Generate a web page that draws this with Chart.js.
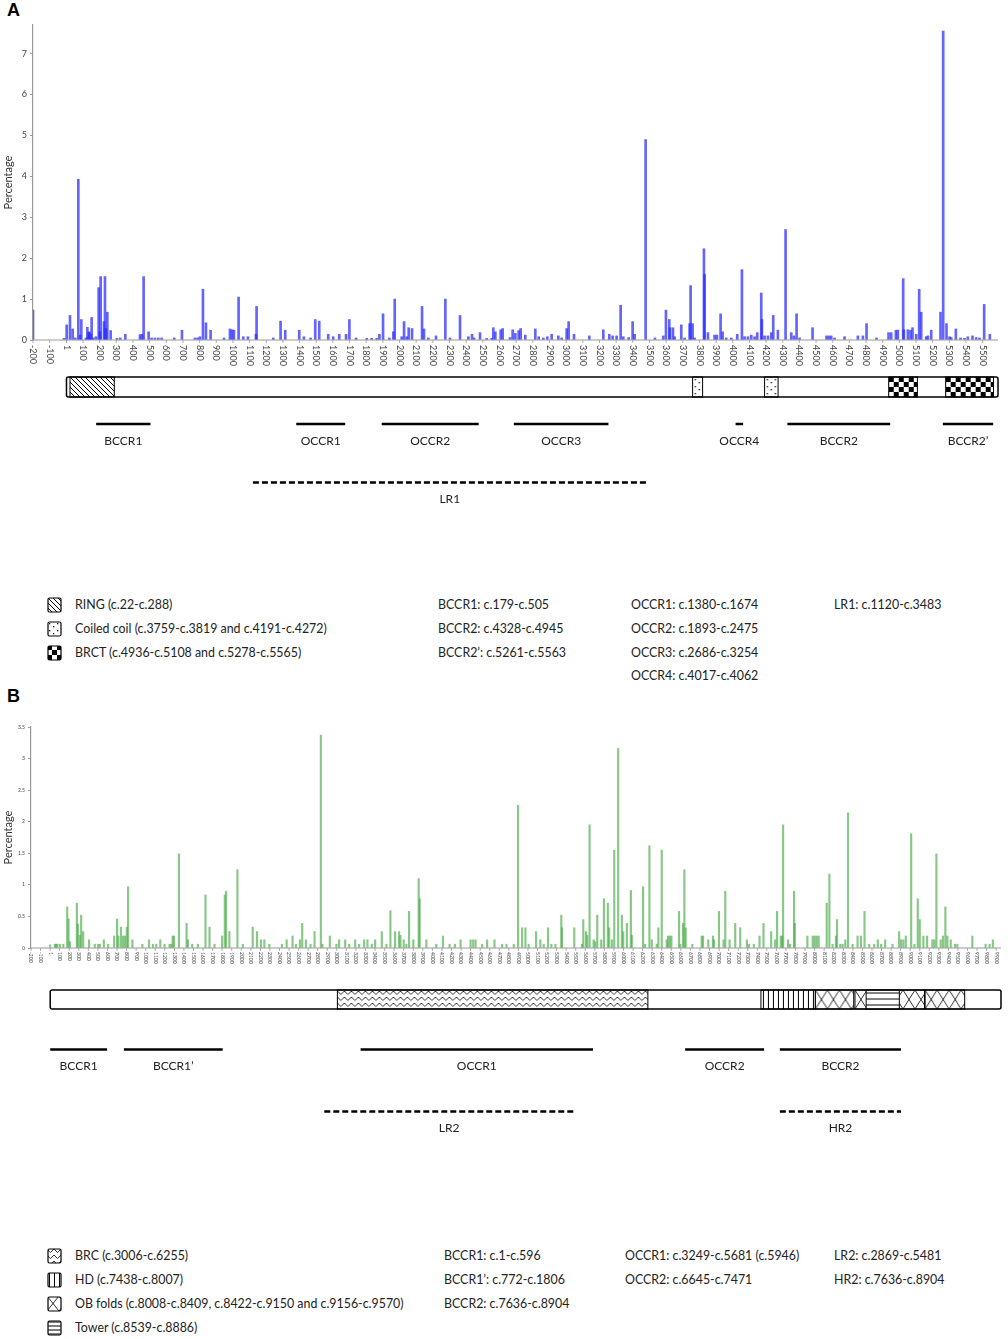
<!DOCTYPE html>
<html>
<head>
<meta charset="utf-8">
<script src="https://cdn.jsdelivr.net/npm/chart.js@4.4.1/dist/chart.umd.min.js"></script>
<style>
  body { margin: 0; background: #fff; }
  #page { position: relative; width: 1008px; height: 1339px; font-family: Lato, 'Open Sans', sans-serif; color: #222; }
  .panel { position: absolute; left: 7px; font: bold 18px 'Liberation Sans', Arial, sans-serif; color: #000; }
  canvas.chart { position: absolute; left: 0; }
  .lg { position: absolute; font-size: 12.4px; line-height: 16px; white-space: nowrap; }
  .sw { position: absolute; width: 15px; height: 16px; }
</style>
</head>
<body>
<div id="page">
  <div class="panel" style="top:0px">A</div>
  <canvas id="chartA" class="chart" width="1008" height="520" style="top:0px"></canvas>

  <canvas class="sw" data-pat="hatch" width="15" height="16" style="left:47px;top:597px"></canvas>
  <canvas class="sw" data-pat="dots" width="15" height="16" style="left:47px;top:621px"></canvas>
  <canvas class="sw" data-pat="check" width="15" height="16" style="left:47px;top:645px"></canvas>
  <div class="lg" style="left:75px;top:597px">RING (c.22-c.288)</div>
  <div class="lg" style="left:75px;top:621px">Coiled coil (c.3759-c.3819 and c.4191-c.4272)</div>
  <div class="lg" style="left:75px;top:645px">BRCT (c.4936-c.5108 and c.5278-c.5565)</div>
  <div class="lg" style="left:438px;top:597px">BCCR1: c.179-c.505</div>
  <div class="lg" style="left:438px;top:621px">BCCR2: c.4328-c.4945</div>
  <div class="lg" style="left:438px;top:645px">BCCR2’: c.5261-c.5563</div>
  <div class="lg" style="left:631px;top:597px">OCCR1: c.1380-c.1674</div>
  <div class="lg" style="left:631px;top:621px">OCCR2: c.1893-c.2475</div>
  <div class="lg" style="left:631px;top:645px">OCCR3: c.2686-c.3254</div>
  <div class="lg" style="left:631px;top:668px">OCCR4: c.4017-c.4062</div>
  <div class="lg" style="left:834px;top:597px">LR1: c.1120-c.3483</div>

  <div class="panel" style="top:686px">B</div>
  <canvas id="chartB" class="chart" width="1008" height="440" style="top:700px"></canvas>

  <canvas class="sw" data-pat="zigzag" width="15" height="16" style="left:47px;top:1248px"></canvas>
  <canvas class="sw" data-pat="vlines" width="15" height="16" style="left:47px;top:1272px"></canvas>
  <canvas class="sw" data-pat="cross" width="15" height="16" style="left:47px;top:1296px"></canvas>
  <canvas class="sw" data-pat="hlines" width="15" height="16" style="left:47px;top:1320px"></canvas>
  <div class="lg" style="left:75px;top:1248px">BRC (c.3006-c.6255)</div>
  <div class="lg" style="left:75px;top:1272px">HD (c.7438-c.8007)</div>
  <div class="lg" style="left:75px;top:1296px">OB folds (c.8008-c.8409, c.8422-c.9150 and c.9156-c.9570)</div>
  <div class="lg" style="left:75px;top:1320px">Tower (c.8539-c.8886)</div>
  <div class="lg" style="left:444px;top:1248px">BCCR1: c.1-c.596</div>
  <div class="lg" style="left:444px;top:1272px">BCCR1’: c.772-c.1806</div>
  <div class="lg" style="left:444px;top:1296px">BCCR2: c.7636-c.8904</div>
  <div class="lg" style="left:625px;top:1248px">OCCR1: c.3249-c.5681 (c.5946)</div>
  <div class="lg" style="left:625px;top:1272px">OCCR2: c.6645-c.7471</div>
  <div class="lg" style="left:834px;top:1248px">LR2: c.2869-c.5481</div>
  <div class="lg" style="left:834px;top:1272px">HR2: c.7636-c.8904</div>
</div>

<script>
// ---- Panel A (blue) : position (c.) and percentage ----
const posA = [-200, -14, 2, 22, 38, 54, 72, 82, 90, 118, 126, 134, 138, 146, 152, 162, 178, 194, 202, 206,
  226, 232, 238, 246, 266, 304, 324, 354, 442, 454, 464, 494, 512, 532, 552, 572, 648, 694, 772, 788,
  802, 820, 838, 866, 946, 982, 994, 1006, 1034, 1062, 1090, 1138, 1142, 1242, 1286, 1314, 1398, 1426, 1466, 1494,
  1518, 1572, 1602, 1638, 1679, 1699, 1739, 1803, 1833, 1863, 1879, 1901, 1939, 1963, 1971, 2013, 2027, 2043, 2055, 2075,
  2135, 2147, 2173, 2219, 2275, 2303, 2363, 2413, 2435, 2447, 2483, 2523, 2553, 2563, 2575, 2607, 2619, 2663, 2679, 2695,
  2715, 2727, 2755, 2815, 2835, 2863, 2887, 2913, 2953, 2973, 3003, 3015, 3047, 3139, 3223, 3259, 3279, 3303, 3327, 3343,
  3375, 3399, 3411, 3477, 3533, 3583, 3599, 3619, 3623, 3641, 3651, 3691, 3711, 3741, 3747, 3759, 3771, 3827, 3831, 3851,
  3891, 3905, 3927, 3939, 3961, 3991, 4027, 4055, 4071, 4091, 4111, 4131, 4147, 4171, 4175, 4191, 4211, 4231, 4243, 4271,
  4317, 4351, 4367, 4383, 4401, 4479, 4563, 4577, 4591, 4611, 4671, 4751, 4781, 4803, 4863, 4935, 4951, 4979, 4991, 5023,
  5027, 5051, 5067, 5079, 5101, 5119, 5131, 5161, 5171, 5191, 5247, 5263, 5283, 5301, 5311, 5339, 5367, 5391, 5411, 5439,
  5461, 5481, 5509, 5543];
const pctA = [0.73, 0.04, 0.37, 0.6, 0.27, 0.05, 3.93, 0.12, 0.5, 0.05, 0.31, 0.18, 0.2, 0.15, 0.55, 0.05, 0.08, 1.28, 0.2, 1.55,
  0.45, 1.55, 0.28, 0.68, 0.23, 0.04, 0.05, 0.14, 0.13, 0.14, 1.55, 0.2, 0.05, 0.05, 0.05, 0.05, 0.05, 0.24, 0.05, 0.05,
  0.08, 1.24, 0.42, 0.24, 0.05, 0.27, 0.25, 0.24, 1.05, 0.08, 0.08, 0.14, 0.82, 0.05, 0.46, 0.24, 0.24, 0.08, 0.05, 0.5,
  0.46, 0.14, 0.08, 0.14, 0.14, 0.5, 0.05, 0.04, 0.04, 0.04, 0.14, 0.64, 0.05, 0.2, 1.0, 0.08, 0.45, 0.08, 0.3, 0.28,
  0.82, 0.27, 0.05, 0.1, 1.0, 0.05, 0.6, 0.08, 0.14, 0.05, 0.18, 0.04, 0.04, 0.3, 0.2, 0.25, 0.28, 0.06, 0.25, 0.16,
  0.23, 0.28, 0.12, 0.27, 0.08, 0.05, 0.08, 0.14, 0.1, 0.05, 0.28, 0.45, 0.14, 0.1, 0.25, 0.14, 0.1, 0.1, 0.85, 0.08,
  0.06, 0.45, 0.14, 4.9, 0.05, 0.1, 0.73, 0.5, 0.3, 0.3, 0.08, 0.37, 0.05, 0.4, 1.33, 0.4, 0.05, 2.23, 1.6, 0.18,
  0.12, 0.12, 0.64, 0.2, 0.05, 0.05, 0.14, 1.72, 0.08, 0.08, 0.12, 0.08, 0.18, 1.15, 0.5, 0.1, 0.1, 0.18, 0.6, 0.24,
  2.7, 0.18, 0.1, 0.64, 0.05, 0.3, 0.1, 0.1, 0.1, 0.05, 0.08, 0.1, 0.1, 0.4, 0.05, 0.18, 0.18, 0.24, 0.24, 1.5,
  0.25, 0.25, 0.24, 0.3, 0.14, 1.24, 0.68, 0.08, 0.1, 0.24, 0.68, 7.55, 0.4, 0.08, 0.06, 0.27, 0.05, 0.04, 0.08, 0.1,
  0.06, 0.05, 0.87, 0.14];
const ticksA = [-200, -100, 1];
for (let t = 100; t <= 5500; t += 100) ticksA.push(t);

const domainNameA = ['RING', 'Coiled coil', 'Coiled coil', 'BRCT', 'BRCT'];
const domainStartA = [22, 3759, 4191, 4936, 5278];
const domainEndA = [288, 3819, 4272, 5108, 5565];
const regionNameA = ['BCCR1', 'OCCR1', 'OCCR2', 'OCCR3', 'OCCR4', 'BCCR2', 'BCCR2’'];
const regionStartA = [179, 1380, 1893, 2686, 4017, 4328, 5261];
const regionEndA = [505, 1674, 2475, 3254, 4062, 4945, 5563];
const dashNameA = ['LR1'];
const dashStartA = [1120];
const dashEndA = [3483];

// ---- Panel B (green) ----
const posB = [0, 50, 62, 75, 102, 138, 179, 193, 207, 280, 290, 311, 325, 346, 408, 468, 503, 520, 562, 607,
  670, 701, 715, 742, 763, 784, 802, 816, 861, 965, 1035, 1076, 1111, 1153, 1198, 1250, 1268, 1282, 1296, 1348,
  1428, 1442, 1487, 1546, 1626, 1668, 1720, 1800, 1828, 1842, 1876, 1960, 2016, 2120, 2165, 2207, 2242, 2294, 2426, 2475,
  2537, 2572, 2614, 2638, 2677, 2725, 2767, 2833, 2850, 2927, 2996, 3024, 3088, 3130, 3192, 3234, 3286, 3321, 3366, 3401,
  3471, 3519, 3561, 3610, 3652, 3666, 3700, 3728, 3756, 3801, 3857, 3867, 3937, 4041, 4111, 4180, 4236, 4295, 4400, 4427,
  4452, 4521, 4573, 4650, 4730, 4775, 4852, 4897, 4939, 4974, 5008, 5085, 5130, 5165, 5210, 5245, 5287, 5349, 5356, 5485,
  5565, 5579, 5607, 5621, 5645, 5687, 5704, 5725, 5767, 5795, 5836, 5850, 5878, 5903, 5944, 5983, 5997, 6035, 6077, 6087,
  6205, 6226, 6271, 6296, 6348, 6365, 6400, 6452, 6466, 6484, 6501, 6581, 6595, 6623, 6637, 6651, 6720, 6818, 6832, 6887,
  6936, 6946, 6999, 7047, 7065, 7110, 7169, 7221, 7291, 7312, 7364, 7423, 7465, 7545, 7587, 7607, 7646, 7660, 7670, 7722,
  7743, 7785, 7792, 7924, 7980, 8000, 8021, 8042, 8126, 8154, 8188, 8223, 8234, 8268, 8293, 8321, 8349, 8397, 8449, 8484,
  8522, 8571, 8623, 8661, 8696, 8738, 8815, 8884, 8905, 8929, 8954, 9010, 9044, 9079, 9100, 9138, 9177, 9232, 9253, 9274,
  9319, 9343, 9368, 9389, 9424, 9469, 9493, 9650, 9789, 9831, 9865];
const pctB = [0.05, 0.06, 0.06, 0.06, 0.06, 0.06, 0.65, 0.46, 0.1, 0.71, 0.38, 0.2, 0.52, 0.26, 0.13, 0.06, 0.06, 0.06, 0.13, 0.06,
  0.19, 0.46, 0.19, 0.33, 0.19, 0.19, 0.33, 0.97, 0.13, 0.06, 0.13, 0.06, 0.06, 0.13, 0.06, 0.06, 0.06, 0.19, 0.19, 1.49,
  0.39, 0.13, 0.06, 0.06, 0.84, 0.33, 0.06, 0.19, 0.84, 0.9, 0.26, 1.24, 0.06, 0.33, 0.26, 0.13, 0.13, 0.06, 0.06, 0.13,
  0.19, 0.06, 0.13, 0.39, 0.13, 0.06, 0.26, 3.37, 0.06, 0.19, 0.06, 0.13, 0.13, 0.06, 0.13, 0.06, 0.13, 0.13, 0.06, 0.13,
  0.26, 0.06, 0.59, 0.26, 0.26, 0.2, 0.13, 0.06, 0.58, 0.13, 1.1, 0.78, 0.13, 0.06, 0.19, 0.06, 0.06, 0.13, 0.13, 0.13,
  0.13, 0.06, 0.13, 0.13, 0.06, 0.06, 0.06, 2.26, 0.32, 0.32, 0.06, 0.26, 0.13, 0.06, 0.32, 0.06, 0.06, 0.52, 0.32, 0.32,
  0.06, 0.45, 0.26, 0.2, 1.95, 0.13, 0.1, 0.52, 0.13, 0.78, 0.71, 0.32, 0.13, 1.55, 3.16, 0.52, 0.26, 0.39, 0.91, 0.2,
  0.97, 0.06, 1.62, 0.13, 0.06, 0.32, 1.55, 0.13, 0.19, 0.19, 0.19, 0.58, 0.06, 0.39, 1.24, 0.32, 0.06, 0.19, 0.19, 0.13,
  0.19, 0.13, 0.58, 0.13, 0.9, 0.13, 0.39, 0.32, 0.13, 0.06, 0.06, 0.19, 0.39, 0.26, 0.13, 0.58, 0.19, 0.19, 1.95, 0.13,
  0.06, 0.9, 0.39, 0.19, 0.19, 0.19, 0.19, 0.19, 0.71, 1.17, 0.06, 0.19, 0.45, 0.06, 0.06, 0.13, 2.14, 0.06, 0.19, 0.19,
  0.58, 0.06, 0.06, 0.13, 0.06, 0.13, 0.06, 0.26, 0.13, 0.13, 0.19, 1.81, 0.06, 0.78, 0.45, 0.19, 0.19, 0.13, 0.13, 1.49,
  0.13, 0.19, 0.65, 0.19, 0.13, 0.06, 0.06, 0.19, 0.06, 0.06, 0.13];
const ticksB = [-200, -100, 1];
for (let t = 100; t <= 9900; t += 100) ticksB.push(t);

const domainNameB = ['BRC', 'HD', 'OB folds', 'OB folds', 'OB folds', 'Tower'];
const domainStartB = [3006, 7438, 8008, 8422, 9156, 8539];
const domainEndB = [6255, 8007, 8409, 9150, 9570, 8886];
const regionNameB = ['BCCR1', 'BCCR1’', 'OCCR1', 'OCCR2', 'BCCR2'];
const regionStartB = [1, 772, 3249, 6645, 7636];
const regionEndB = [596, 1806, 5681, 7471, 8904];
const dashNameB = ['LR2', 'HR2'];
const dashStartB = [2869, 7636];
const dashEndB = [5481, 8904];

const patternOf = {
  'RING': 'hatch', 'Coiled coil': 'dots', 'BRCT': 'check',
  'BRC': 'zigzag', 'HD': 'vlines', 'OB folds': 'cross', 'Tower': 'hlines'
};

// small tile canvases for the domain fills
function makeTile(kind, boxH) {
  const c = document.createElement('canvas');
  const g = c.getContext('2d');
  const size = {
    hatch: [5, 5], dots: [8, 7], check: [10, 10], zigzag: [7, 6],
    vlines: [5, 4], cross: [12, boxH], hlines: [4, boxH / 3.4]
  }[kind];
  c.width = size[0]; c.height = Math.max(1, Math.round(size[1]));
  const w = c.width, h = c.height;
  g.fillStyle = '#fff'; g.fillRect(0, 0, w, h);
  g.strokeStyle = '#000'; g.fillStyle = '#000'; g.lineWidth = 1;
  g.beginPath();
  if (kind === 'hatch') {
    g.moveTo(-1, -1); g.lineTo(w + 1, h + 1);
    g.moveTo(-1, h - 1); g.lineTo(1, h + 1);
    g.moveTo(w - 1, -1); g.lineTo(w + 1, 1);
    g.stroke();
  } else if (kind === 'dots') {
    g.fillRect(2, 2, 1.3, 1.3); g.fillRect(6, 5, 1.3, 1.3);
  } else if (kind === 'check') {
    g.fillRect(0, 0, 5, 5); g.fillRect(5, 5, 5, 5);
  } else if (kind === 'zigzag') {
    g.lineWidth = 0.8;
    g.moveTo(0, 1); g.lineTo(w / 2, 4.5); g.lineTo(w, 1); g.stroke();
  } else if (kind === 'vlines') {
    g.moveTo(2.5, 0); g.lineTo(2.5, h); g.stroke();
  } else if (kind === 'cross') {
    g.lineWidth = 0.8;
    g.moveTo(0, 0); g.lineTo(w, h); g.moveTo(w, 0); g.lineTo(0, h); g.stroke();
  } else if (kind === 'hlines') {
    g.moveTo(0, h / 2); g.lineTo(w, h / 2); g.stroke();
  }
  return c;
}

function patternFor(ctx, kind, boxH, x0, y0) {
  const p = ctx.createPattern(makeTile(kind, boxH), 'repeat');
  p.setTransform(new DOMMatrix([1, 0, 0, 1, x0, y0]));
  return p;
}

const diagramPlugin = {
  id: 'diagram',
  afterDraw(chart, args, o) {
    const ctx = chart.ctx, x = chart.scales.x, area = chart.chartArea;
    ctx.save();
    // x axis line, ticks and labels (rotated clockwise)
    ctx.strokeStyle = '#999'; ctx.lineWidth = 1.2;
    ctx.beginPath(); ctx.moveTo(area.left, area.bottom); ctx.lineTo(area.right, area.bottom); ctx.stroke();
    ctx.font = o.tickFont; ctx.fillStyle = '#444';
    ctx.textAlign = 'left'; ctx.textBaseline = 'middle';
    ctx.lineWidth = 0.8;
    o.ticks.forEach(t => {
      const px = x.getPixelForValue(t);
      ctx.beginPath(); ctx.moveTo(px, area.bottom); ctx.lineTo(px, area.bottom + 3); ctx.stroke();
      ctx.save();
      ctx.translate(px, area.bottom + o.labelGap);
      ctx.rotate(Math.PI / 2);
      ctx.fillText(String(t), 0, 0);
      ctx.restore();
    });

    // protein box
    const bx0 = x.getPixelForValue(1), bx1 = x.getPixelForValue(o.length);
    const by = o.boxTop, bh = o.boxH;
    ctx.fillStyle = '#fff';
    ctx.fillRect(bx0, by, bx1 - bx0, bh);
    o.domainName.forEach((name, i) => {
      const d0 = x.getPixelForValue(o.domainStart[i]), d1 = x.getPixelForValue(o.domainEnd[i]);
      ctx.fillStyle = patternFor(ctx, patternOf[name], bh, d0, by);
      ctx.fillRect(d0, by, d1 - d0, bh);
      ctx.strokeStyle = '#000'; ctx.lineWidth = 1;
      ctx.strokeRect(d0, by, d1 - d0, bh);
    });
    ctx.strokeStyle = '#000'; ctx.lineWidth = 1.5;
    ctx.beginPath(); ctx.roundRect(bx0, by, bx1 - bx0, bh, 2); ctx.stroke();

    // region lines
    ctx.font = '12px Lato, sans-serif'; ctx.fillStyle = '#222';
    ctx.textAlign = 'center'; ctx.textBaseline = 'middle';
    ctx.lineWidth = 2.5; ctx.strokeStyle = '#000';
    o.regionName.forEach((name, i) => {
      const r0 = x.getPixelForValue(o.regionStart[i]), r1 = x.getPixelForValue(o.regionEnd[i]);
      ctx.beginPath(); ctx.moveTo(r0, o.lineY); ctx.lineTo(r1, o.lineY); ctx.stroke();
      ctx.fillText(name, (r0 + r1) / 2, o.lineY + 17);
    });
    ctx.setLineDash([6, 3]);
    o.dashName.forEach((name, i) => {
      const r0 = x.getPixelForValue(o.dashStart[i]), r1 = x.getPixelForValue(o.dashEnd[i]);
      ctx.beginPath(); ctx.moveTo(r0, o.dashY); ctx.lineTo(r1, o.dashY); ctx.stroke();
      ctx.fillText(name, (r0 + r1) / 2, o.dashY + 17);
    });
    ctx.restore();
  }
};

function yAxis(max, step, width, size) {
  return {
    min: 0, max: max,
    afterFit: s => { s.width = width; },
    afterBuildTicks: s => { s.ticks = s.ticks.filter(t => Math.abs(t.value / step - Math.round(t.value / step)) < 1e-6); },
    ticks: { stepSize: step, font: { family: 'Lato', size: size }, color: '#444', padding: 3, callback: v => String(v) },
    grid: { drawOnChartArea: false, tickLength: 3, color: '#999' },
    border: { color: '#999', width: 1.2 },
    title: { display: true, text: 'Percentage', font: { family: 'Lato', size: 11 }, color: '#333', padding: { top: 2, bottom: 0 } }
  };
}

function makeChart(id, pos, pct, color, thick, xMax, yAx, padding, diagram) {
  return new Chart(document.getElementById(id), {
    type: 'bar',
    data: {
      datasets: [{
        data: pos.map((p, i) => ({ x: p, y: pct[i] })),
        backgroundColor: color,
        barThickness: thick,
      }],
    },
    options: {
      responsive: false,
      animation: false,
      layout: { padding },
      plugins: { legend: { display: false }, tooltip: { enabled: false }, diagram },
      scales: {
        x: { type: 'linear', min: -200, max: xMax, offset: false, display: false },
        y: yAx,
      },
    },
    plugins: [diagramPlugin],
  });
}

makeChart('chartA', posA, pctA, 'rgba(40,40,255,0.72)', 2, 5592,
  yAxis(7.7, 1, 33, 9), { top: 25, right: 10, bottom: 180, left: 0 },
  {
    ticks: ticksA, tickFont: '9px Lato, sans-serif', labelGap: 5, length: 5592,
    boxTop: 377, boxH: 20, lineY: 424, dashY: 482.5,
    domainName: domainNameA, domainStart: domainStartA, domainEnd: domainEndA,
    regionName: regionNameA, regionStart: regionStartA, regionEnd: regionEndA,
    dashName: dashNameA, dashStart: dashStartA, dashEnd: dashEndA,
  });

makeChart('chartB', posB, pctB, 'rgba(70,170,70,0.65)', 1.5, 9950,
  yAxis(3.5, 0.5, 31, 5), { top: 27, right: 7, bottom: 192, left: 0 },
  {
    ticks: ticksB, tickFont: '5px Lato, sans-serif', labelGap: 4, length: 9950,
    boxTop: 290, boxH: 19, lineY: 349.5, dashY: 411.5,
    domainName: domainNameB, domainStart: domainStartB, domainEnd: domainEndB,
    regionName: regionNameB, regionStart: regionStartB, regionEnd: regionEndB,
    dashName: dashNameB, dashStart: dashStartB, dashEnd: dashEndB,
  });

// legend swatches
document.querySelectorAll('canvas.sw').forEach(c => {
  const g = c.getContext('2d');
  g.fillStyle = patternFor(g, c.dataset.pat, 15, 0, 0);
  g.fillRect(1, 1, 13, 14);
  g.strokeStyle = '#000'; g.lineWidth = 1.2;
  g.beginPath(); g.roundRect(1, 1, 13, 14, 1.5); g.stroke();
});
</script>
</body>
</html>
